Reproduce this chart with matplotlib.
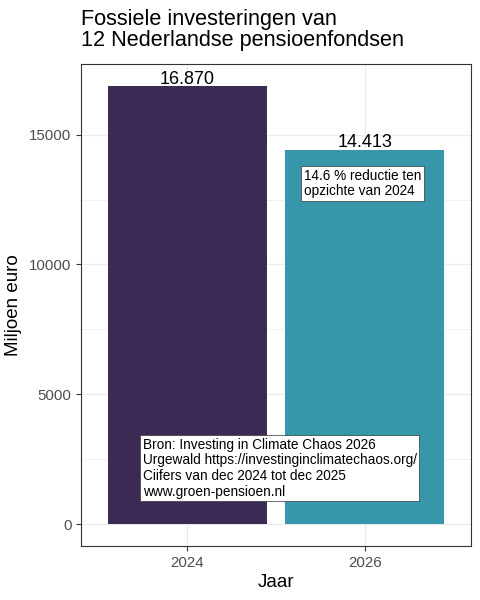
import numpy as np
import matplotlib.pyplot as plt

plt.rcParams['font.family'] = ['Liberation Sans', 'DejaVu Sans']

jaren = ['2024', '2026']
waarden = [16870, 14413]
labels = ['16.870', '14.413']
kleuren = ['#3B2A53', '#3597A9']

fig = plt.figure(figsize=(4.8, 6), dpi=100)
ax = fig.add_axes([0.169, 0.09, 0.812, 0.803])

x = np.arange(len(jaren))
ax.bar(x, waarden, width=0.9, color=kleuren, zorder=2)
for xi, v, lab in zip(x, waarden, labels):
    ax.text(xi, v - 60, lab, ha='center', va='bottom', fontsize=13, zorder=3)

ax.set_xlim(-0.6, 1.6)
ax.set_ylim(-843, 17713)
ax.set_xticks(x)
ax.set_xticklabels(jaren)
ax.set_yticks([0, 5000, 10000, 15000])
ax.set_yticks([2500, 7500, 12500], minor=True)
ax.grid(True, which='major', color='#EBEBEB', lw=0.9, zorder=0)
ax.grid(True, which='minor', axis='y', color='#EBEBEB', lw=0.5, zorder=0)
ax.tick_params(which='major', length=3.5, width=0.8, color='#333333',
               labelcolor='#4D4D4D', labelsize=10.8)
ax.tick_params(which='minor', length=0)
for s in ax.spines.values():
    s.set_color('#333333')
    s.set_linewidth(0.8)

ax.set_xlabel('Jaar', fontsize=13.5, labelpad=3)
ax.set_ylabel('Miljoen euro', fontsize=13.5, labelpad=5)

fig.text(0.169, 0.985, 'Fossiele investeringen van\n12 Nederlandse pensioenfondsen',
         ha='left', va='top', fontsize=15.6, linespacing=0.98)

box = dict(boxstyle='square,pad=0.2', fc='white', ec='#333333', lw=0.5)
ax.text(0.656, 13130, '14.6 % reductie ten\nopzichte van 2024', ha='left', va='center',
        fontsize=9.8, bbox=box, zorder=4, linespacing=1.12)
ax.text(-0.252, 2150, 'Bron: Investing in Climate Chaos 2026\nUrgewald https://investinginclimatechaos.org/\nCiifers van dec 2024 tot dec 2025\nwww.groen-pensioen.nl',
        ha='left', va='center', fontsize=9.8, bbox=box, zorder=4, linespacing=1.15)

fig.savefig('out.png', dpi=100)
